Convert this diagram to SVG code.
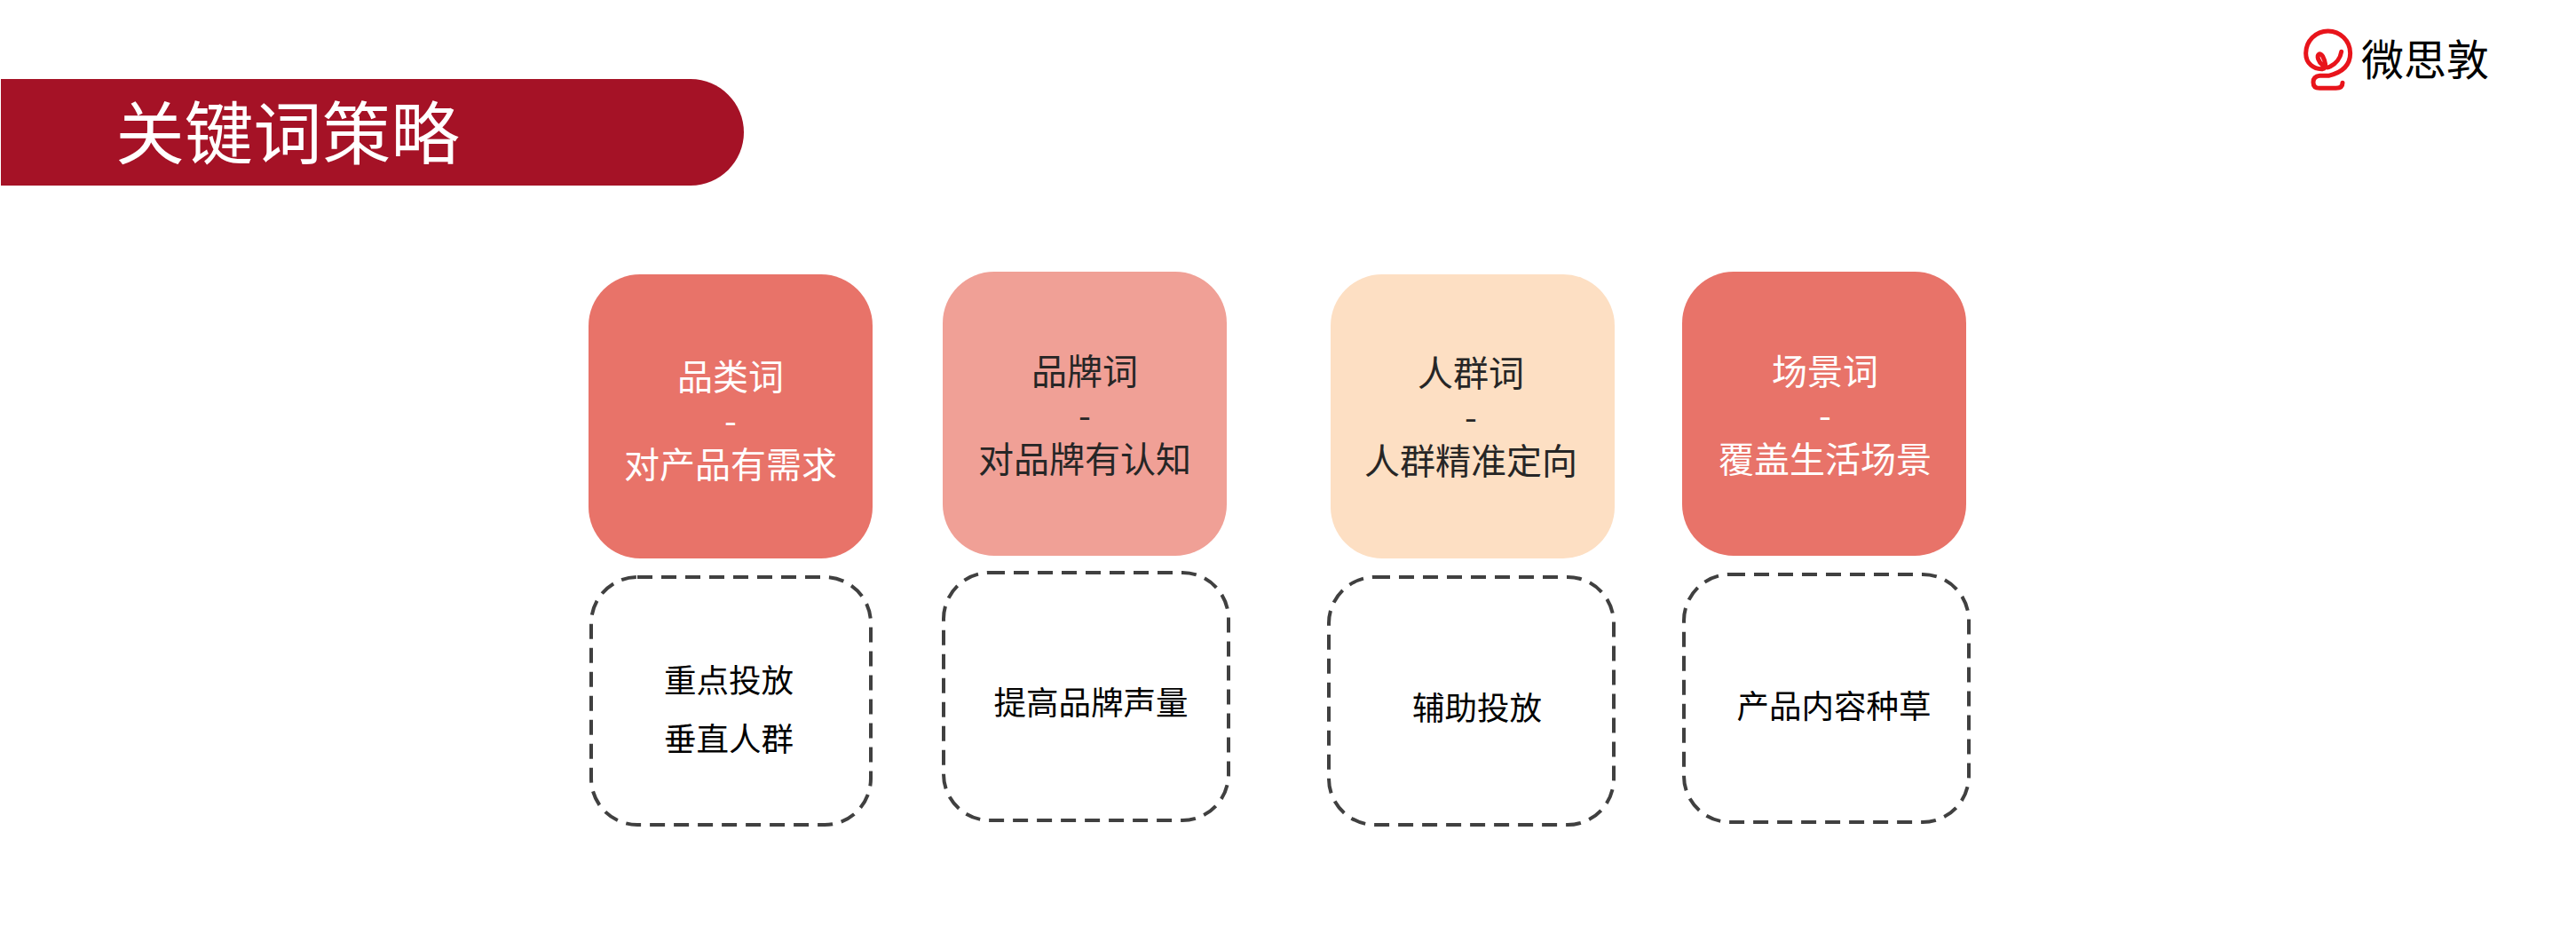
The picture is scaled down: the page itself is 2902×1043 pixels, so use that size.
<svg xmlns="http://www.w3.org/2000/svg" width="2902" height="1043" viewBox="0 0 2902 1043">
<style>
text{font-family:"Noto Sans CJK SC","Noto Sans",sans-serif;text-anchor:middle;font-weight:400}
.t{font-size:40px}
.s{font-size:36.5px;fill:#000}
.w{fill:#fff}
.d{fill:#262626}
.dash{fill:#fff;stroke:#404040;stroke-width:4;stroke-dasharray:17 10}
</style>
<rect width="2902" height="1043" fill="#fff"/>
<g id="banner"><path d="M1 89H778C811 89 838 116 838 149C838 182 811 209 778 209H1Z" fill="#A51226"/>
<text x="324" y="179" font-size="77.5" fill="#fff">关键词策略</text></g>
<g id="logo"><path transform="translate(2560 10) scale(.3333)" d="M237 250Q237 268 215 268H160Q138 268 138 248Q138 228 160 226H190C235 215 263 190 263 150A75 75 0 1 0 113 150C113 185 140 205 170 203C185 200 178 175 170 160C160 145 150 155 155 170C160 185 180 205 195 195C215 185 230 165 233 145" fill="none" stroke="#E8141B" stroke-width="15" stroke-linecap="round" stroke-linejoin="round"/>
<text x="2732" y="85" font-size="48" font-weight="500" fill="#000">微思敦</text></g>
<g id="n1"><rect x="663" y="309" width="320" height="320" rx="58" fill="#E87369"/>
<text class="t w"><tspan x="823" y="439">品类词</tspan><tspan x="823" y="489">-</tspan><tspan x="823" y="538">对产品有需求</tspan></text></g>
<g id="n2"><rect x="1062" y="306" width="320" height="320" rx="58" fill="#F0A096"/>
<text class="t d"><tspan x="1222" y="433">品牌词</tspan><tspan x="1222" y="483">-</tspan><tspan x="1222" y="532">对品牌有认知</tspan></text></g>
<g id="n3"><rect x="1499" y="309" width="320" height="320" rx="58" fill="#FDDFC3"/>
<text class="t d"><tspan x="1657" y="435">人群词</tspan><tspan x="1657" y="485">-</tspan><tspan x="1657" y="534">人群精准定向</tspan></text></g>
<g id="n4"><rect x="1895" y="306" width="320" height="320" rx="58" fill="#E87369"/>
<text class="t w"><tspan x="2056" y="433">场景词</tspan><tspan x="2056" y="483">-</tspan><tspan x="2056" y="532">覆盖生活场景</tspan></text></g>
<g id="d1"><rect class="dash" x="666" y="650" width="315" height="279" rx="52"/>
<text class="s"><tspan x="821" y="780">重点投放</tspan><tspan x="821" y="846">垂直人群</tspan></text></g>
<g id="d2"><rect class="dash" x="1063" y="645" width="321" height="279" rx="52"/>
<text class="s" x="1229" y="805">提高品牌声量</text></g>
<g id="d3"><rect class="dash" x="1497" y="650" width="321" height="279" rx="52"/>
<text class="s" x="1664" y="811">辅助投放</text></g>
<g id="d4"><rect class="dash" x="1897" y="647" width="321" height="279" rx="52"/>
<text class="s" x="2066" y="809">产品内容种草</text></g>
<g id="connectors"></g>
</svg>
